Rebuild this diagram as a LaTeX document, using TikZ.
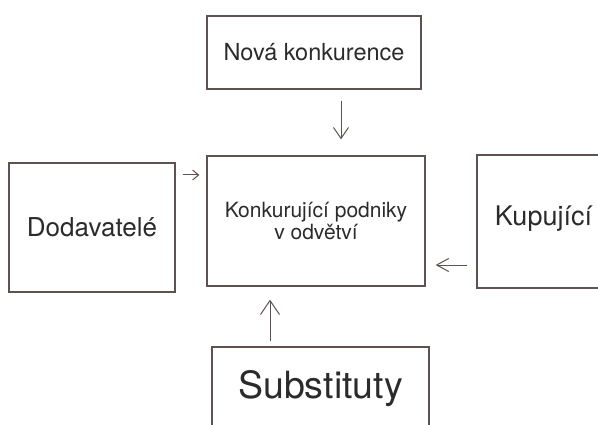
\documentclass[tikz,border=0pt]{standalone}
\usepackage{fontspec}
\setmainfont{TeX Gyre Heros}
\usetikzlibrary{arrows.meta}
\definecolor{boxc}{HTML}{5E5250}
\definecolor{txtc}{HTML}{2B2B2B}
\begin{document}
\begin{tikzpicture}[x=1pt,y=1pt,
  box/.style={draw=boxc, line width=1.3pt, rectangle, inner sep=0pt, text=txtc, align=center},
  arr/.style={draw=boxc, line width=1pt}]
\useasboundingbox (0,0) rectangle (598,424);
\clip (0,0) rectangle (598,424);
\node[box, minimum width=214pt, minimum height=73pt, font=\fontsize{23.5}{26}\selectfont] (nova) at (314,371.5) {Nová konkurence};
\node[box, minimum width=166pt, minimum height=129pt, font=\fontsize{26}{30}\selectfont] (dod) at (92,196.5) {Dodavatelé};
\node[box, minimum width=218pt, minimum height=130pt, font=\fontsize{21}{22}\selectfont] (konk) at (316,203) {Konkurující podniky\\v odvětví};
\node[box, minimum width=133pt, minimum height=133pt, text height=20pt, text depth=11pt, font=\fontsize{27}{30}\selectfont] (kup) at (543.5,202.5) {Kupující};
\node[box, minimum width=217pt, minimum height=100pt, text height=28pt, text depth=26pt, font=\fontsize{37.5}{40}\selectfont] (sub) at (320.5,27) {Substituty};
\draw[arr, -{Straight Barb[length=11pt,width=15pt]}, shorten <=11pt, shorten >=16pt]
  ([xshift=27pt]nova.south) -- ([xshift=27pt]nova.south |- konk.north);
\draw[arr, -{Straight Barb[length=6pt,width=10pt]}, shorten <=7pt, shorten >=7pt]
  ([yshift=52.5pt]dod.east) -- ([yshift=52.5pt]dod.east -| konk.west);
\draw[arr, -{Straight Barb[length=12pt,width=13pt]}, shorten <=9pt, shorten >=10pt]
  ([yshift=-43.5pt]kup.west) -- ([yshift=-43.5pt]kup.west -| konk.east);
\draw[arr, -{Straight Barb[length=14pt,width=19pt]}, shorten <=5pt, shorten >=13pt]
  ([xshift=-50.5pt]sub.north) -- ([xshift=-50.5pt]sub.north |- konk.south);
\end{tikzpicture}
\end{document}
